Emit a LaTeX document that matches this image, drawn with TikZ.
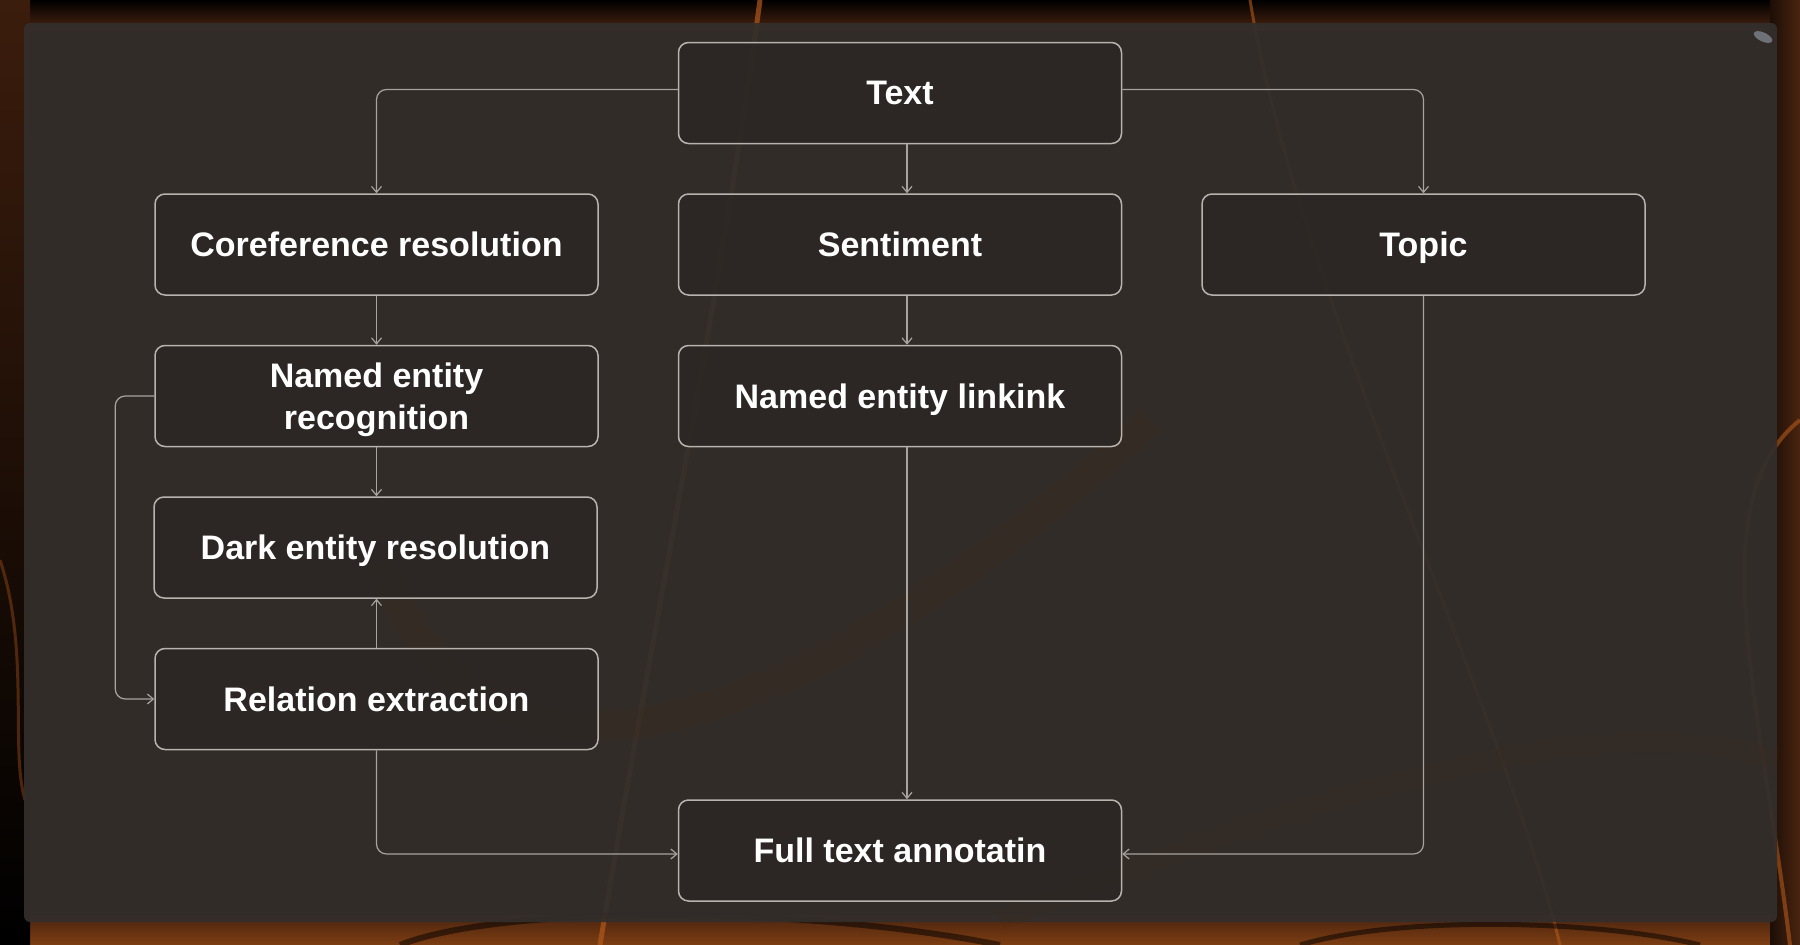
\documentclass[tikz,border=0pt]{standalone}
\usepackage{fontspec}
\setmainfont{Liberation Sans}
\usetikzlibrary{arrows.meta}
\definecolor{bgdark}{HTML}{1C0E06}
\definecolor{bgbrown}{HTML}{4A2410}
\definecolor{bgorange}{HTML}{B2581A}
\definecolor{panelc}{HTML}{332E2B}
\definecolor{boxfill}{HTML}{2A2523}
\definecolor{boxline}{HTML}{B8B3AE}
\definecolor{connline}{HTML}{A8A39E}
\definecolor{ovalc}{HTML}{7E848C}
\begin{document}
\begin{tikzpicture}[x=1pt,y=-1pt,
  box/.style={draw=boxline, line width=1.5pt, rounded corners=10pt, fill=boxfill,
    fill opacity=0.65, text opacity=1, minimum width=443pt, minimum height=101pt,
    font=\fontsize{34}{42}\selectfont\bfseries, text=white, align=center, inner sep=0pt,
    text depth=0pt},
  conn/.style={draw=connline, line width=1.2pt, rounded corners=10pt,
    -{Straight Barb[length=6pt,width=10pt]}}]
\useasboundingbox (0,0) rectangle (1800,945);
% background
\fill[bgdark] (0,0) rectangle (1800,945);
\shade[top color=black, bottom color=bgbrown] (0,0) rectangle (1800,30);
\shade[top color=bgbrown, bottom color=bgorange!70!black] (0,915) rectangle (1800,945);
\shade[top color=bgbrown!80!black, bottom color=black] (0,0) rectangle (30,945);
\shade[left color=bgdark, right color=bgbrown] (1770,0) rectangle (1800,945);
\draw[bgorange, line width=5pt, opacity=0.7] (760,0) .. controls (720,300) and (640,700) .. (600,945);
\draw[bgorange, line width=3pt, opacity=0.6] (1250,0) .. controls (1300,300) and (1500,700) .. (1560,945);
\draw[bgorange, line width=4pt, opacity=0.6] (1800,420) .. controls (1700,500) and (1760,700) .. (1790,945);
\draw[bgorange!80!black, line width=3pt, opacity=0.5] (0,560) .. controls (30,650) and (10,750) .. (25,800);
\draw[black, line width=6pt, opacity=0.5] (400,945) .. controls (500,905) and (800,905) .. (1000,945);
\draw[black, line width=5pt, opacity=0.5] (1300,945) .. controls (1400,915) and (1600,920) .. (1700,945);
% panel
\fill[panelc, opacity=0.94, rounded corners=6pt] (24,23) rectangle (1777,922);
\draw[bgbrown, line width=30pt, opacity=0.12] (380,560) .. controls (500,900) and (900,650) .. (1150,420);
\draw[bgbrown, line width=20pt, opacity=0.10] (1000,920) .. controls (1300,800) and (1600,700) .. (1777,760);
\fill[ovalc, opacity=0.8, rotate around={-25:(1763,37)}] (1763,37) ellipse [x radius=10pt, y radius=4.5pt];
% nodes
\node[box] (text)  at (900,93)    {Text};
\node[box] (coref) at (376.5,244.5) {Coreference resolution};
\node[box] (sent)  at (900,244.5)   {Sentiment};
\node[box] (topic) at (1423.5,244.5) {Topic};
\node[box] (ner)   at (376.5,396)   {Named entity\\recognition};
\node[box] (nel)   at (900,396)     {Named entity linkink};
\node[box] (dark)  at (375.5,547.5) {Dark entity resolution};
\node[box] (rel)   at (376.5,699)   {Relation extraction};
\node[box] (full)  at (900,850.5)   {Full text annotatin};
% connectors
\draw[conn] ([yshift=3.5pt]text.west) -| (coref.north);
\draw[conn] ([yshift=3.5pt]text.east) -| (topic.north);
\draw[conn] ([xshift=7pt]text.south) -- ([xshift=7pt]sent.north);
\draw[conn] (coref.south) -- (ner.north);
\draw[conn] (ner.south) -- (ner.south |- dark.north);
\draw[conn] (rel.north) -- (rel.north |- dark.south);
\draw[conn] ([xshift=7pt]sent.south) -- ([xshift=7pt]nel.north);
\draw[conn] ([xshift=7pt]nel.south) -- ([xshift=7pt]full.north);
\draw[conn] (ner.west) -- ++(-39,0) |- (rel.west);
\draw[conn] (rel.south) |- ([yshift=-3.5pt]full.west);
\draw[conn] (topic.south) |- ([yshift=-3.5pt]full.east);
\end{tikzpicture}
\end{document}
